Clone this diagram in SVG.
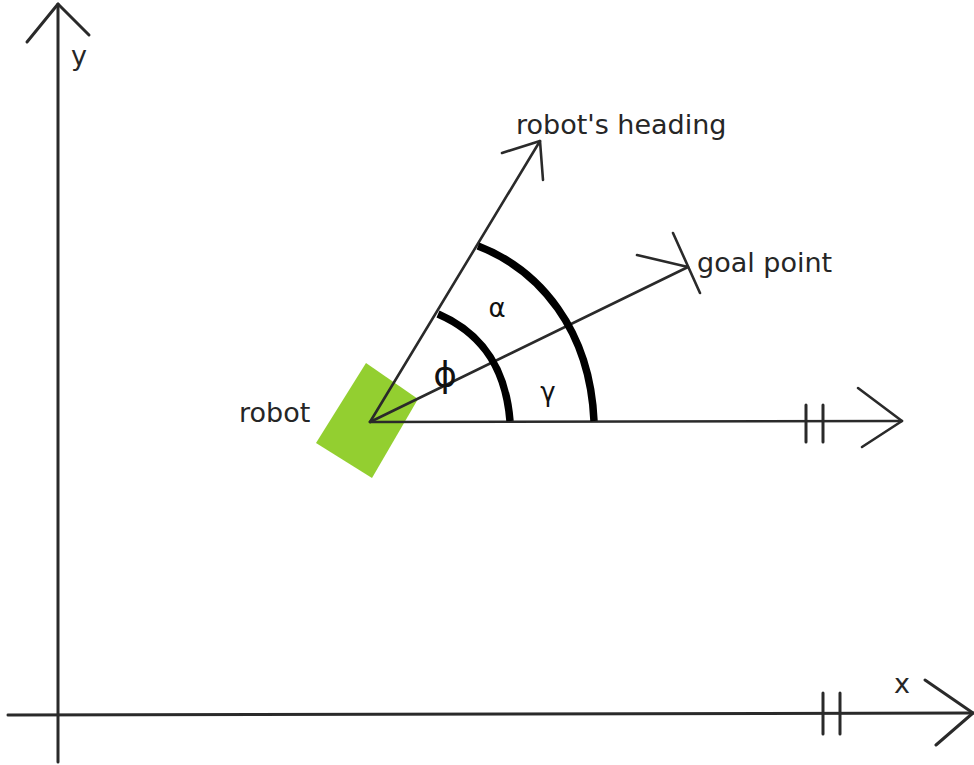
<svg xmlns="http://www.w3.org/2000/svg" width="974" height="765" viewBox="0 0 974 765">
<style>
.ln{fill:none;stroke:#2a2a2a;stroke-width:2.6;stroke-linecap:round;stroke-linejoin:round}
.ax{fill:none;stroke:#2a2a2a;stroke-width:3;stroke-linecap:round;stroke-linejoin:round}
.arc{fill:none;stroke:#000;stroke-width:7.5}
.t{font-family:"DejaVu Sans","Liberation Sans",sans-serif;font-size:27px;fill:#262626}
.g{font-family:"DejaVu Sans","Liberation Sans",sans-serif;fill:#111}
</style>
<rect width="974" height="765" fill="#fff"/>
<g id="robot">
<polygon points="366,363 418,399 372,478 316,443" fill="#93cf30"/>
<text class="t" x="239" y="422">robot</text>
</g>
<g id="connectors">
<g id="y-axis">
<path class="ax" d="M58,762 L58,4"/>
<path class="ax" d="M27,42 L58,4 L89,35"/>
</g>
<g id="x-axis">
<path class="ax" d="M8,715 L973,713"/>
<path class="ax" d="M925,680 L973,713 L936,745"/>
<path class="ax" d="M823,693 L823,734 M840,693 L840,734"/>
</g>
<g id="heading">
<path class="ln" d="M370,422 L540,141"/>
<path class="ln" d="M502,153 L540,141 L543,180"/>
</g>
<g id="goal">
<path class="ln" d="M370,422 L688,267"/>
<path class="ln" d="M637,255 L688,267 M673,233 L700,293"/>
</g>
<g id="ref-line">
<path class="ln" d="M370,422 L902,421"/>
<path class="ln" d="M858,388 L902,421 L862,447"/>
<path class="ax" d="M806,405 L806,442 M823,405 L823,442"/>
</g>
<g id="arcs">
<path class="arc" d="M438,314 C475,330 505,360 510,421"/>
<path class="arc" d="M478,246 C540,270 590,330 594,421"/>
</g>
</g>
<g id="labels">
<text class="t" x="71" y="65">y</text>
<text class="t" x="894" y="693">x</text>
<text class="t" x="516" y="134">robot's heading</text>
<text class="t" x="697" y="272">goal point</text>
<text class="g" x="497" y="317" font-size="26" text-anchor="middle">α</text>
<text class="g" x="548" y="401" font-size="26" text-anchor="middle">γ</text>
<text class="g" x="445" y="387" font-size="36" text-anchor="middle">ϕ</text>
</g>
</svg>
